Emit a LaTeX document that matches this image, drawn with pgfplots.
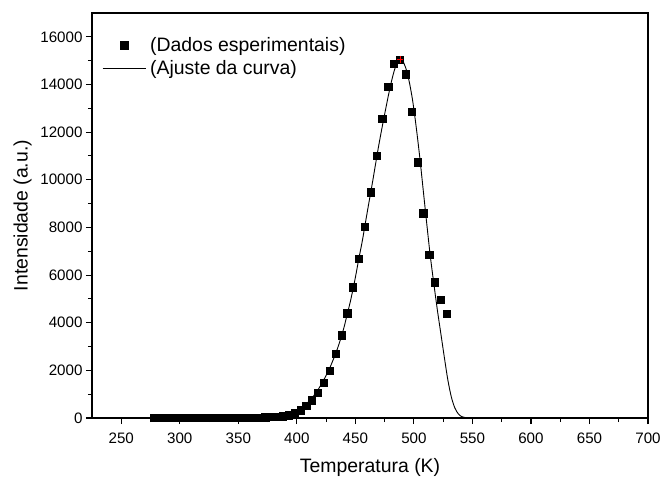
\documentclass[border=0pt]{standalone}
\usepackage{fontspec}
\setmainfont{Liberation Sans}
\usepackage{pgfplots}
\pgfplotsset{compat=1.18}
\pgfplotsset{
  sqleg/.style={legend image code/.code={\draw[##1] plot coordinates {(21.5bp,0bp)};}},
  lnleg/.style={legend image code/.code={\draw[##1] (0bp,0bp) -- (43bp,0bp);}},
}
\begin{document}
\begin{tikzpicture}
\begin{axis}[
  at={(0,0)}, anchor=south west,
  scale only axis, width=556bp, height=405bp,
  xmin=225, xmax=700, ymin=0, ymax=17000,
  xtick={250,300,...,700}, ytick={0,2000,...,16000},
  minor x tick num=1, minor y tick num=1,
  xtick pos=bottom, ytick pos=left,
  tick align=outside,
  major tick length=6bp, minor tick length=4bp,
  axis line style={line width=1.2bp},
  every tick/.style={line width=1.1bp, black},
  /pgf/number format/assume math mode=true,
  /pgf/number format/1000 sep={},
  scaled y ticks=false,
  tick label style={font=\fontsize{15.2}{18}\selectfont},
  xticklabel style={yshift=-5bp},
  xlabel={Temperatura (K)}, ylabel={Intensidade (a.u.)},
  label style={font=\fontsize{19.5}{23}\selectfont},
  xlabel style={yshift=-8.5bp},
  ylabel style={yshift=2bp},
  legend style={draw=none, fill=none, at={(axis description cs:0.018,0.94)}, anchor=north west,
    inner sep=0pt, font=\fontsize{19.5}{23}\selectfont, row sep=7.5bp, column sep=4bp,
    nodes={inner sep=0pt}},
  legend cell align=left,
]
\addplot[only marks, mark=square*, mark size=3.6bp, black, sqleg]
 coordinates {
(278,15)(283,15)(288,15)(293,15)(298,15)(303,15)(308,15)(313,15)(318,15)(323,15)
(328,15)(333,15)(338,15)(343,15)(348,15)(353,15)(358,15)(363,20)(368,25)(373,30)
(378,40)(383,55)(388,75)(393,120)(398,215)(403,330)(408,505)(413,750)(418,1070)(423,1480)
(428,2000)(433,2685)(438,3475)(443,4400)(448,5490)(453,6670)(458,8020)(463,9480)(468,11020)(473,12570)
(478,13910)(483,14870)(488,15050)(493,14430)(498,12860)(503,10740)(508,8600)(513,6870)(518,5700)(523,4950)
(528,4370)
};
\addlegendentry{(Dados esperimentais)}
\addplot[black, line width=0.9bp, mark=none, smooth, lnleg]
 coordinates {
(278,0)(350,0)(360,2)(370,8)(380,25)(386,45)(390,90)(393,150)(397,230)(400,310)
(403,400)(406,510)(409,640)(412,790)(415,970)(418,1180)(421,1420)(423,1600)(426,1880)(429,2200)
(433,2690)(436,3100)(440,3750)(443,4350)(446,4950)(450,5900)(453,6700)(456,7450)(460,8600)(465,10000)
(470,11450)(475,12750)(480,13950)(484,14700)(488,15050)(490,15030)(493,14700)(496,14120)(499,13300)(502,12200)
(505,10950)(508,9550)(511,8150)(514,6800)(517,5650)(520,4550)(523,3550)(526,2550)(529,1600)(532,880)
(535,420)(538,170)(541,55)(544,15)(548,0)(550,0)
};
\addlegendentry{(Ajuste da curva)}
\addplot[only marks, mark=+, mark size=3.3bp, red, line width=0.6bp, forget plot]
 coordinates {(488,15060)};
\end{axis}
\pgfresetboundingbox
\useasboundingbox (-92bp,-59bp) rectangle (568bp,418bp);
\end{tikzpicture}
\end{document}
